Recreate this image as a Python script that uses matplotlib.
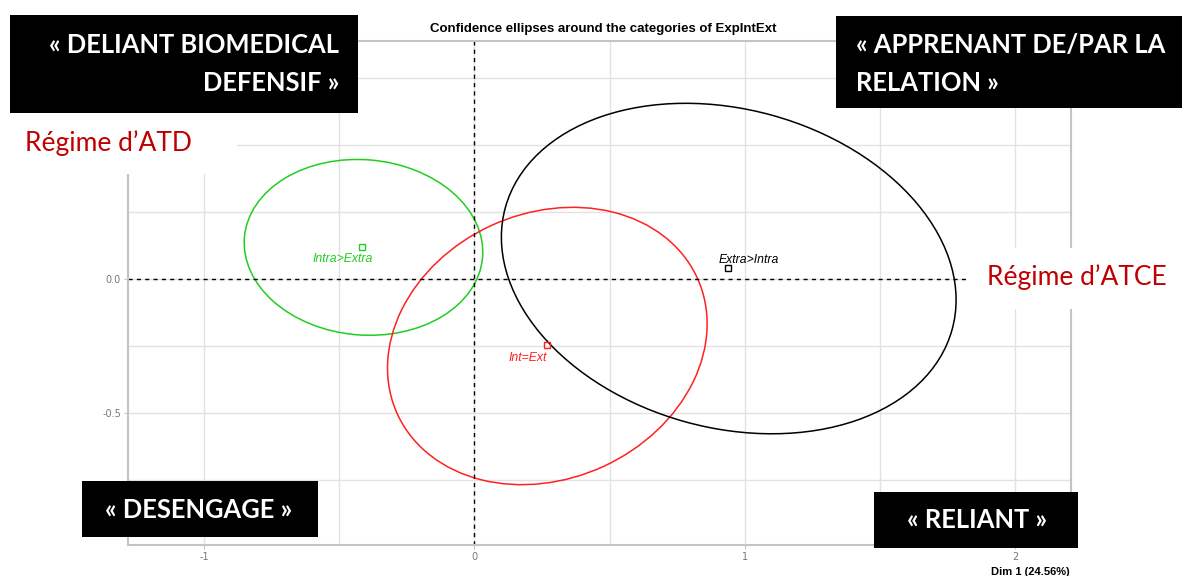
import numpy as np
import matplotlib.pyplot as plt
from matplotlib.patches import Ellipse, Rectangle

plt.rcParams['axes.unicode_minus'] = False

W, H = 1182, 576

# categories of ExpIntExt
cats = ['Intra>Extra', 'Int=Ext', 'Extra>Intra']
cols = ['#22CC22', '#FF2020', '#000000']
pt_x = [-0.414, 0.267, 0.937]
pt_y = [0.120, -0.248, 0.041]
lab_x = [-0.485, 0.196, 1.015]
lab_y = [0.074, -0.295, 0.071]
# confidence ellipses: centre, full axes, angle (deg)
ell_x = [-0.41, 0.270, 0.941]
ell_y = [0.118, -0.250, 0.039]
ell_w = [0.884, 1.22, 1.714]
ell_h = [0.654, 0.99, 1.188]
ell_ang = [-5, 25, -15.5]

xticks = [-1, 0, 1, 2]
yticks = [-0.5, 0.0]
ytick_labels = ['-0.5', '0.0']

def px(x0, y0, x1, y1):
    # pixel box -> figure fraction rectangle
    return (x0 / W, 1 - y1 / H), (x1 - x0) / W, (y1 - y0) / H

fig = plt.figure(figsize=(W / 100, H / 100), dpi=100)
ax = fig.add_axes([128 / W, 1 - 545 / H, (1071 - 128) / W, (545 - 41) / H])
ax.set_xlim(-1.281, 2.207)
ax.set_ylim(-0.9925, 0.888)

ax.set_xticks(xticks)
ax.set_xticks([-0.5, 0.5, 1.5], minor=True)
ax.set_yticks(yticks)
ax.set_yticklabels(ytick_labels)
ax.set_yticks([-0.75, -0.25, 0.25, 0.5, 0.75], minor=True)
ax.grid(which='both', color='#E2E2E2', lw=1)
ax.set_axisbelow(True)
for s in ax.spines.values():
    s.set_color('#C4C4C4')
    s.set_linewidth(1.5)
ax.tick_params(which='major', length=3, color='#C4C4C4', labelsize=7, labelcolor='#777777', pad=2)
ax.tick_params(which='minor', length=0)

ax.axhline(0, color='black', lw=1, ls=(0, (3, 3)))
ax.axvline(0, color='black', lw=1, ls=(0, (3, 3)))

for i in range(len(cats)):
    e = Ellipse((ell_x[i], ell_y[i]), ell_w[i], ell_h[i], angle=ell_ang[i],
                fill=False, edgecolor=cols[i], lw=1.1)
    ax.add_patch(e)
    ax.plot(pt_x[i], pt_y[i], marker='s', ms=4.5, mfc='none', mec=cols[i], mew=1)
    ax.text(lab_x[i], lab_y[i], cats[i], color=cols[i], fontsize=8.8, style='italic',
            family='Liberation Sans', ha='center', va='center')

fig.text(603 / W, 1 - 29 / H, 'Confidence ellipses around the categories of ExpIntExt',
         ha='center', va='center', fontsize=9.5, fontweight='bold', family='Liberation Sans')
fig.text(1070 / W, 1 - 572 / H, 'Dim 1 (24.56%)', ha='right', va='center',
         fontsize=8, fontweight='bold', family='Liberation Sans')

# white patches behind the regime labels
for b in [(0, 113, 237, 174), (966, 248, 1182, 309)]:
    xy, w, h = px(*b)
    fig.add_artist(Rectangle(xy, w, h, transform=fig.transFigure, facecolor='white',
                             edgecolor='none', zorder=5))
fig.text(25 / W, 1 - 143 / H, 'Régime d\u2019ATD', color='#C00000', fontsize=19,
         family='Lato', ha='left', va='center', zorder=6)
fig.text(987 / W, 1 - 277 / H, 'Régime d\u2019ATCE', color='#C00000', fontsize=19,
         family='Lato', ha='left', va='center', zorder=6)

# black quadrant boxes
boxes = [(10, 15, 358, 113), (836, 16, 1182, 108), (82, 481, 318, 537), (874, 492, 1078, 548)]
for b in boxes:
    xy, w, h = px(*b)
    fig.add_artist(Rectangle(xy, w, h, transform=fig.transFigure, facecolor='black',
                             edgecolor='none', zorder=5))
kw = dict(color='white', fontsize=18.4, fontweight='bold', family='Lato', va='center', zorder=6)
fig.text(339 / W, 1 - 45 / H, '« DELIANT BIOMEDICAL', ha='right', **kw)
fig.text(339 / W, 1 - 83 / H, 'DEFENSIF »', ha='right', **kw)
fig.text(856 / W, 1 - 45 / H, '« APPRENANT DE/PAR LA', ha='left', **kw)
fig.text(856 / W, 1 - 83 / H, 'RELATION »', ha='left', **kw)
fig.text(199 / W, 1 - 510 / H, '« DESENGAGE »', ha='center', **kw)
fig.text(977 / W, 1 - 520 / H, '« RELIANT »', ha='center', **kw)

plt.savefig('out.png', dpi=100)
